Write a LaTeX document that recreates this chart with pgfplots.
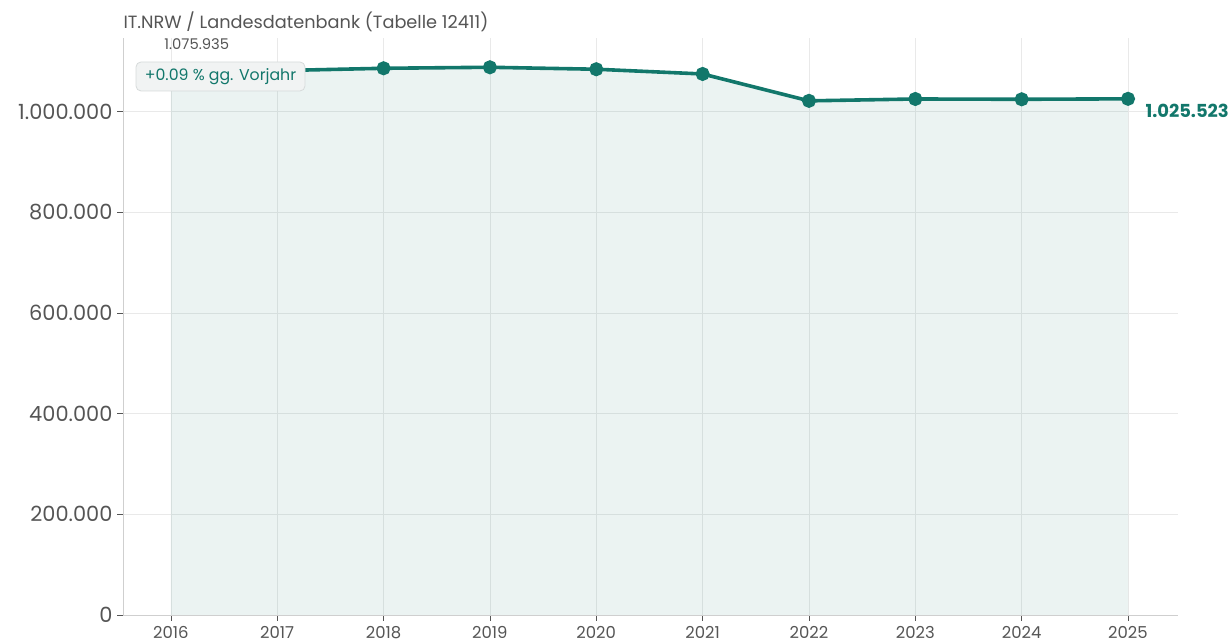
\documentclass[border=0pt]{standalone}
\usepackage{pgfplots}
\pgfplotsset{compat=1.18}
\usepackage{fontspec}
\setmainfont{Poppins}

\definecolor{lineteal}{HTML}{12776B}
\definecolor{gridgray}{HTML}{E9E9E9}
\definecolor{axisgray}{HTML}{CFCFCF}
\definecolor{labelgray}{HTML}{555555}
\definecolor{boxfill}{HTML}{F1F3F3}
\definecolor{boxdraw}{HTML}{D6DADA}

% Beschäftigte je Jahr
\pgfplotstableread{
year value
2016 1075935
2017 1081500
2018 1086200
2019 1088200
2020 1084300
2021 1074900
2022 1021500
2023 1025200
2024 1024601
2025 1025523
}\datatable

\begin{document}
\begin{tikzpicture}[x=1bp,y=1bp]
\path[use as bounding box] (0,0) rectangle (1231,643);
\begin{axis}[
  at={(123bp,28bp)}, anchor=south west,
  scale only axis, width=1055bp, height=577bp,
  xmin=2015.55, xmax=2025.47,
  ymin=0, ymax=1146400,
  xtick={2016,2017,...,2025},
  ytick={0,200000,400000,600000,800000,1000000},
  axis x line*=bottom, axis y line*=left,
  axis line style={draw=axisgray, line width=0.8pt},
  grid=major,
  major grid style={draw=gridgray, line width=0.7pt},
  tick align=outside,
  major tick length=6bp,
  tick style={draw=labelgray, line width=0.7pt},
  /pgf/number format/assume math mode=true,
  yticklabel style={/pgf/number format/fixed, /pgf/number format/precision=0,
    /pgf/number format/1000 sep={.}, font=\fontsize{21}{21}\selectfont, xshift=-1bp},
  xticklabel style={/pgf/number format/1000 sep={}, yshift=-1.5bp,
    font=\fontsize{16.5}{16.5}\selectfont},
  scaled y ticks=false,
  tick label style={text=labelgray},
  clip=false,
]
\addplot[draw=none, fill=lineteal, fill opacity=0.085] table[x=year, y=value] {\datatable} \closedcycle;
\addplot[color=lineteal, line width=3.6bp, mark=*, mark size=5.2bp] table[x=year, y=value] {\datatable};
\node[anchor=west, font=\bfseries\fontsize{18}{18}\selectfont, text=lineteal]
  at (axis cs:2025,1025523) [xshift=14bp, yshift=-12bp] {1.025.523};
\node[anchor=west, font=\fontsize{14.8}{14.8}\selectfont, text=labelgray]
  at (axis cs:2016,1075935) [xshift=-10bp, yshift=29bp] {1.075.935};
\end{axis}
\node[anchor=west, font=\fontsize{17.8}{17.8}\selectfont, text=labelgray] at (120,621)
  {IT.NRW / Landesdatenbank (Tabelle 12411)};
\node[draw=boxdraw, fill=boxfill, rounded corners=5bp, line width=0.8pt,
  text=lineteal, font=\fontsize{15.8}{15.8}\selectfont,
  minimum width=169bp, minimum height=29bp, inner sep=0pt] at (220.5,566.5)
  {+0.09 \% gg. Vorjahr};
\end{tikzpicture}
\end{document}
